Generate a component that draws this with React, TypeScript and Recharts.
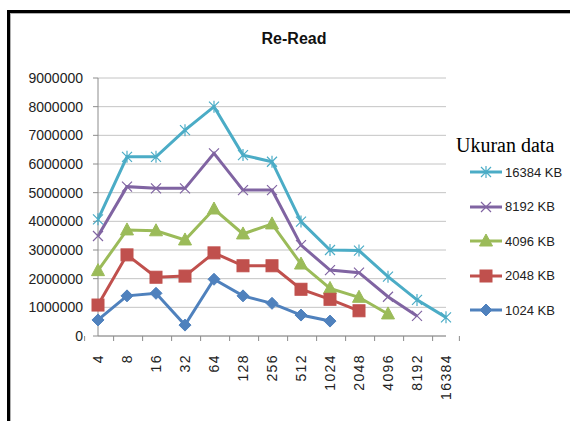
import React from "react";
import { LineChart, Line, XAxis, YAxis, CartesianGrid } from "recharts";

const categories = ["4", "8", "16", "32", "64", "128", "256", "512", "1024", "2048", "4096", "8192", "16384"];
const kb1024 = [560000, 1400000, 1490000, 380000, 1980000, 1400000, 1140000, 730000, 520000, null, null, null, null];
const kb2048 = [1080000, 2830000, 2050000, 2090000, 2900000, 2450000, 2450000, 1630000, 1280000, 880000, null, null, null];
const kb4096 = [2280000, 3700000, 3670000, 3350000, 4430000, 3560000, 3910000, 2510000, 1660000, 1350000, 770000, null, null];
const kb8192 = [3490000, 5210000, 5150000, 5150000, 6370000, 5090000, 5090000, 3170000, 2300000, 2210000, 1370000, 700000, null];
const kb16384 = [4070000, 6250000, 6250000, 7180000, 8000000, 6310000, 6080000, 3990000, 3000000, 2980000, 2070000, 1260000, 650000];
const yTicks = [0, 1000000, 2000000, 3000000, 4000000, 5000000, 6000000, 7000000, 8000000, 9000000];

const seriesNames = ["16384 KB", "8192 KB", "4096 KB", "2048 KB", "1024 KB"];
const seriesKeys = ["s16384", "s8192", "s4096", "s2048", "s1024"];
const seriesColors = ["#4bacc6", "#8064a2", "#9bbb59", "#c0504d", "#4f81bd"];
const seriesShapes = ["star", "cross", "triangle", "square", "diamond"];

const data = categories.map((c, i) => ({
  size: c,
  s1024: kb1024[i],
  s2048: kb2048[i],
  s4096: kb4096[i],
  s8192: kb8192[i],
  s16384: kb16384[i],
}));

const W = 570;
const H = 421;
const M = { top: 78, right: 124, bottom: 25, left: 0 };
const YW = 98;
const XH = 60;
const bandW = (W - M.left - YW - M.right) / categories.length;

function marker(shape: string, cx: number, cy: number, color: string, key?: string) {
  switch (shape) {
    case "diamond":
      return <path key={key} d={`M${cx},${cy - 6}L${cx + 6},${cy}L${cx},${cy + 6}L${cx - 6},${cy}Z`} fill={color} stroke={color} strokeWidth={1} />;
    case "square":
      return <rect key={key} x={cx - 6} y={cy - 6} width={12} height={12} fill={color} stroke={color} strokeWidth={1} />;
    case "triangle":
      return <path key={key} d={`M${cx},${cy - 7}L${cx + 6.5},${cy + 5}L${cx - 6.5},${cy + 5}Z`} fill={color} stroke={color} strokeWidth={1} />;
    case "cross":
      return (
        <path key={key} d={`M${cx - 5},${cy - 5}L${cx + 5},${cy + 5}M${cx - 5},${cy + 5}L${cx + 5},${cy - 5}`} stroke={color} strokeWidth={1.2} fill="none" />
      );
    case "star":
    default:
      return (
        <path
          key={key}
          d={`M${cx - 5},${cy - 5}L${cx + 5},${cy + 5}M${cx - 5},${cy + 5}L${cx + 5},${cy - 5}M${cx},${cy - 6}L${cx},${cy + 6}`}
          stroke={color}
          strokeWidth={1.2}
          fill="none"
        />
      );
  }
}

const makeDot = (shape: string, color: string) => (props: any) => {
  const { cx, cy, value, index } = props;
  if (value == null || cx == null || cy == null) return <g key={`d-${shape}-${index}`} />;
  return <g key={`d-${shape}-${index}`}>{marker(shape, cx, cy, color)}</g>;
};

const XTick = (props: any) => {
  const { x, payload, index } = props;
  const left = x - bandW / 2;
  const axisY = H - M.bottom - XH;
  return (
    <g>
      <line x1={left} y1={axisY} x2={left} y2={axisY + 5} stroke="#8c8c8c" />
      {index === categories.length - 1 && (
        <line x1={x + bandW / 2} y1={axisY} x2={x + bandW / 2} y2={axisY + 5} stroke="#8c8c8c" />
      )}
      <text
        transform={`translate(${x + 5},${axisY + 18}) rotate(-90)`}
        textAnchor="end"
        fontSize={14}
        letterSpacing={1.4}
        fill="#222"
        fontFamily="'Liberation Sans', Arial, sans-serif"
      >
        {payload.value}
      </text>
    </g>
  );
};

const LegendBox = () => (
  <div style={{ position: "absolute", left: 456, top: 134, width: 120 }}>
    <div style={{ fontFamily: "'Liberation Serif', 'Times New Roman', serif", fontSize: 20, color: "#000", lineHeight: "22px" }}>
      Ukuran data
    </div>
    {seriesNames.map((n, i) => (
      <div key={n} style={{ display: "flex", alignItems: "center", height: 34.5, marginTop: i === 0 ? -1 : 0 }}>
        <svg width={36} height={16} style={{ marginLeft: 12 }}>
          <line x1={2} y1={8} x2={34} y2={8} stroke={seriesColors[i]} strokeWidth={3} />
          {marker(seriesShapes[i], 18, 8, seriesColors[i])}
        </svg>
        <span style={{ fontFamily: "'Liberation Sans', Arial, sans-serif", fontSize: 13, color: "#222", marginLeft: 1 }}>{n}</span>
      </div>
    ))}
  </div>
);

export default function App() {
  return (
    <div style={{ position: "absolute", left: 0, top: 0, width: W, height: H, background: "#fff", overflow: "hidden" }}>
      <div style={{ position: "absolute", left: 7, top: 10, width: W, height: H, borderLeft: "3px solid #000", borderTop: "3px solid #000" }} />
      <div style={{ position: "absolute", left: 10, top: 13, width: W, height: H, borderLeft: "1px solid #b0b0b0", borderTop: "1px solid #b0b0b0" }} />
      <div
        style={{
          position: "absolute",
          left: 244,
          top: 30,
          width: 100,
          textAlign: "center",
          fontFamily: "'Liberation Sans', Arial, sans-serif",
          fontWeight: "bold",
          fontSize: 16,
          color: "#111",
        }}
      >
        Re-Read
      </div>
      <div style={{ position: "absolute", left: 0, top: 0 }}>
        <LineChart width={W} height={H} data={data} margin={M}>
          <CartesianGrid vertical={false} stroke="#c4c4c4" strokeWidth={1} />
          <XAxis
            dataKey="size"
            height={XH}
            interval={0}
            tickLine={false}
            axisLine={{ stroke: "#8c8c8c" }}
            tick={<XTick />}
          />
          <YAxis
            width={YW}
            domain={[0, 9000000]}
            ticks={yTicks}
            interval={0}
            tickSize={5}
            tickMargin={10}
            tickLine={{ stroke: "#8c8c8c" }}
            axisLine={{ stroke: "#8c8c8c" }}
            tick={{ fontSize: 14, fill: "#222", fontFamily: "'Liberation Sans', Arial, sans-serif" }}
          />
          {seriesKeys.map((k, i) => (
            <Line
              key={k}
              type="linear"
              dataKey={k}
              name={seriesNames[i]}
              stroke={seriesColors[i]}
              strokeWidth={3}
              dot={makeDot(seriesShapes[i], seriesColors[i])}
              activeDot={false}
              isAnimationActive={false}
              connectNulls={false}
            />
          ))}
        </LineChart>
      </div>
      <LegendBox />
    </div>
  );
}
